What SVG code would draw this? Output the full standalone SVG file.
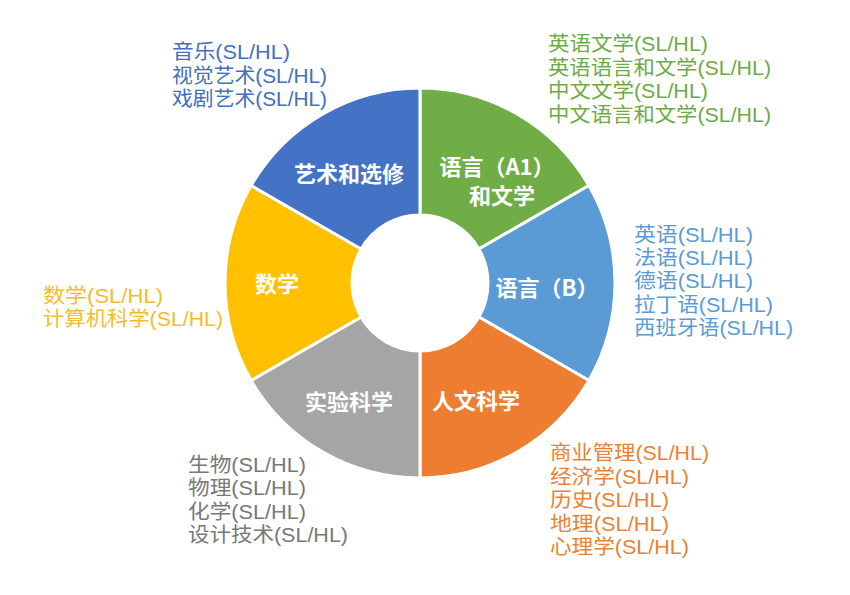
<svg xmlns="http://www.w3.org/2000/svg" width="850" height="595" viewBox="0 0 850 595">
<style>
.seg{stroke:#fff;stroke-width:3;stroke-linejoin:miter}
.in{font-family:"Noto Sans CJK SC","Noto Sans CJK JP",sans-serif;font-size:22px;font-weight:bold;fill:#fff;text-anchor:middle}
.ls{font-family:"Liberation Sans","Noto Sans CJK SC","Noto Sans CJK JP",sans-serif;font-size:20px}
.c1{fill:#4170BE}.c2{fill:#6EAA47}.c3{fill:#5B9BD5}.c4{fill:#EA8234}.c5{fill:#787878}.c6{fill:#F5BC2A}
</style>
<rect width="850" height="595" fill="#fff"/>
<g id="seg-lang-a1">
<path class="seg" fill="#70AD47" d="M420,88 A195,195 0 0 1 588.87,185.5 L478.89,249 A68,68 0 0 0 420,215 Z"/>
<text class="in" x="497" y="175">语言（A1）</text>
<text class="in" x="502" y="204">和文学</text>
</g>
<g id="seg-lang-b">
<path class="seg" fill="#5B9BD5" d="M588.87,185.5 A195,195 0 0 1 588.87,380.5 L478.89,317 A68,68 0 0 0 478.89,249 Z"/>
<text class="in" x="547" y="296">语言（B）</text>
</g>
<g id="seg-humanities">
<path class="seg" fill="#ED7D31" d="M588.87,380.5 A195,195 0 0 1 420,478 L420,351 A68,68 0 0 0 478.89,317 Z"/>
<text class="in" x="476" y="409">人文科学</text>
</g>
<g id="seg-science">
<path class="seg" fill="#A5A5A5" d="M420,478 A195,195 0 0 1 251.13,380.5 L361.11,317 A68,68 0 0 0 420,351 Z"/>
<text class="in" x="349" y="410">实验科学</text>
</g>
<g id="seg-math">
<path class="seg" fill="#FFC000" d="M251.13,380.5 A195,195 0 0 1 251.13,185.5 L361.11,249 A68,68 0 0 0 361.11,317 Z"/>
<text class="in" x="277" y="292">数学</text>
</g>
<g id="seg-arts">
<path class="seg" fill="#4472C4" d="M251.13,185.5 A195,195 0 0 1 420,88 L420,215 A68,68 0 0 0 361.11,249 Z"/>
<text class="in" x="349" y="182">艺术和选修</text>
</g>
<g id="list-arts" class="ls c1">
<text x="172" y="59" textLength="118" lengthAdjust="spacingAndGlyphs">音乐(SL/HL)</text>
<text x="172" y="82.5" textLength="155" lengthAdjust="spacingAndGlyphs">视觉艺术(SL/HL)</text>
<text x="172" y="106" textLength="155" lengthAdjust="spacingAndGlyphs">戏剧艺术(SL/HL)</text>
</g>
<g id="list-lang-a1" class="ls c2">
<text x="548" y="51" textLength="160" lengthAdjust="spacingAndGlyphs">英语文学(SL/HL)</text>
<text x="548" y="74.5" textLength="223" lengthAdjust="spacingAndGlyphs">英语语言和文学(SL/HL)</text>
<text x="548" y="98" textLength="160" lengthAdjust="spacingAndGlyphs">中文文学(SL/HL)</text>
<text x="548" y="121.5" textLength="223" lengthAdjust="spacingAndGlyphs">中文语言和文学(SL/HL)</text>
</g>
<g id="list-lang-b" class="ls c3">
<text x="634" y="242" textLength="119" lengthAdjust="spacingAndGlyphs">英语(SL/HL)</text>
<text x="634" y="265" textLength="119" lengthAdjust="spacingAndGlyphs">法语(SL/HL)</text>
<text x="634" y="288" textLength="119" lengthAdjust="spacingAndGlyphs">德语(SL/HL)</text>
<text x="634" y="311.5" textLength="139" lengthAdjust="spacingAndGlyphs">拉丁语(SL/HL)</text>
<text x="634" y="335" textLength="159" lengthAdjust="spacingAndGlyphs">西班牙语(SL/HL)</text>
</g>
<g id="list-math" class="ls c6">
<text x="43" y="303" textLength="120" lengthAdjust="spacingAndGlyphs">数学(SL/HL)</text>
<text x="43" y="326" textLength="180" lengthAdjust="spacingAndGlyphs">计算机科学(SL/HL)</text>
</g>
<g id="list-science" class="ls c5">
<text x="188" y="472" textLength="118" lengthAdjust="spacingAndGlyphs">生物(SL/HL)</text>
<text x="188" y="495" textLength="118" lengthAdjust="spacingAndGlyphs">物理(SL/HL)</text>
<text x="188" y="518.5" textLength="118" lengthAdjust="spacingAndGlyphs">化学(SL/HL)</text>
<text x="188" y="542" textLength="160" lengthAdjust="spacingAndGlyphs">设计技术(SL/HL)</text>
</g>
<g id="list-humanities" class="ls c4">
<text x="550" y="460" textLength="159" lengthAdjust="spacingAndGlyphs">商业管理(SL/HL)</text>
<text x="550" y="483.5" textLength="139" lengthAdjust="spacingAndGlyphs">经济学(SL/HL)</text>
<text x="550" y="507" textLength="119" lengthAdjust="spacingAndGlyphs">历史(SL/HL)</text>
<text x="550" y="530.5" textLength="119" lengthAdjust="spacingAndGlyphs">地理(SL/HL)</text>
<text x="550" y="554" textLength="139" lengthAdjust="spacingAndGlyphs">心理学(SL/HL)</text>
</g>
<g id="connectors"/>
</svg>
